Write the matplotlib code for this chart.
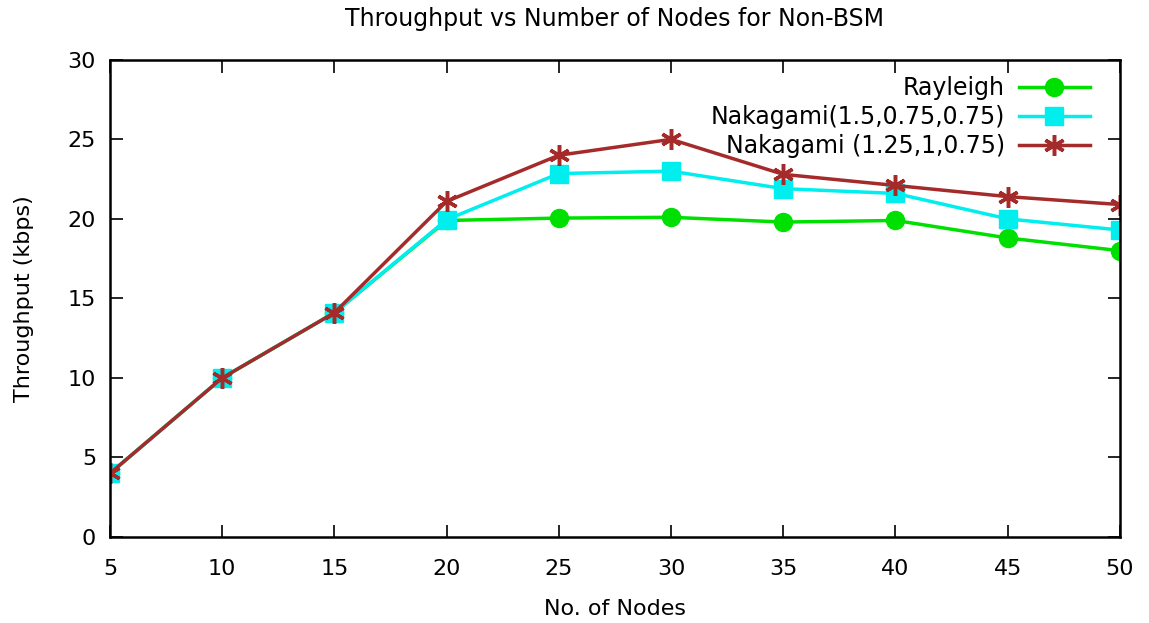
import matplotlib
matplotlib.use("Agg")
import matplotlib.pyplot as plt

nodes = [5, 10, 15, 20, 25, 30, 35, 40, 45, 50]
rayleigh = [4.0, 10.0, 14.1, 19.9, 20.05, 20.1, 19.8, 19.9, 18.8, 18.0]
nak_150 = [4.0, 10.0, 14.1, 19.95, 22.85, 23.0, 21.9, 21.6, 20.0, 19.3]
nak_125 = [4.0, 10.0, 14.1, 21.1, 24.0, 25.0, 22.8, 22.1, 21.4, 20.9]
labels = ["Rayleigh", "Nakagami(1.5,0.75,0.75)", "Nakagami (1.25,1,0.75)"]

fig = plt.figure(figsize=(11.49, 6.23), dpi=100)
ax = fig.add_axes([0.0957, 0.138, 0.879, 0.766])

ax.plot(nodes, rayleigh, color="#00e000", lw=2.5, marker="o", ms=13, label=labels[0])
ax.plot(nodes, nak_150, color="#00eeee", lw=2.5, marker="s", ms=13, label=labels[1])
ax.plot(nodes, nak_125, color="#a52a2a", lw=2.5, marker=(6, 2, 0), ms=15, mew=2.5, label=labels[2])

ax.set_xlim(5, 50)
ax.set_ylim(0, 30)
ax.set_xticks(nodes)
ax.set_yticks([0, 5, 10, 15, 20, 25, 30])
ax.tick_params(direction="in", length=9, width=1.2, top=True, right=True, labelsize=16, colors="black")
ax.tick_params(axis="x", pad=16)
ax.tick_params(axis="y", pad=10)
for s in ax.spines.values():
    s.set_linewidth(1.8)

ax.set_xlabel("No. of Nodes", fontsize=16, labelpad=14)
ax.set_ylabel("Throughput (kbps)", fontsize=16, labelpad=24)
ax.set_title("Throughput vs Number of Nodes for Non-BSM", fontsize=17, pad=24)

ax.legend(loc="upper right", frameon=False, markerfirst=False, fontsize=17,
          handlelength=3.0, labelspacing=0.22, borderaxespad=0.0, handletextpad=0.6,
          borderpad=0.0, bbox_to_anchor=(0.970, 0.966))

fig.savefig("out.png", dpi=100)
